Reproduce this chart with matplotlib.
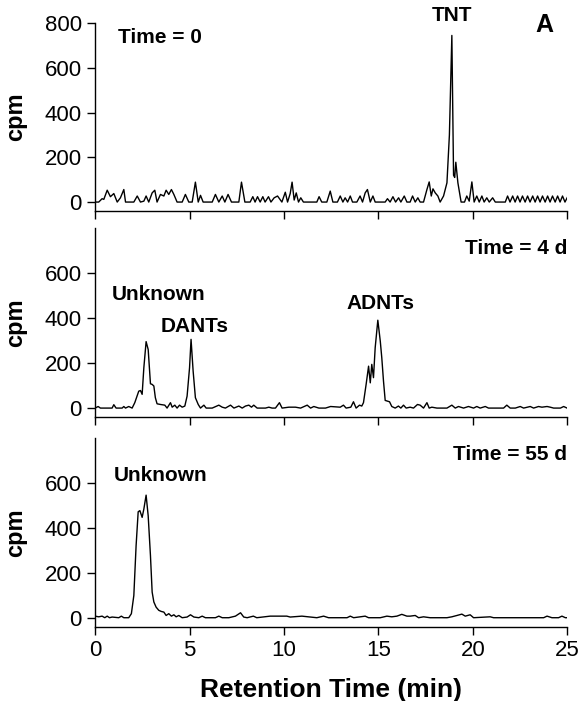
import matplotlib
matplotlib.use("Agg")
import matplotlib.pyplot as plt

plt.rcParams['font.family'] = ['Liberation Sans', 'DejaVu Sans']

# retention time (min) and counts (cpm)
t_day0 = [0.0, 0.19, 0.37, 0.46, 0.64, 0.81, 0.99, 1.17, 1.34, 1.52, 1.61, 2.05, 2.23, 2.40, 2.58, 2.70,
          2.84, 3.02, 3.16, 3.28, 3.46, 3.64, 3.76, 3.90, 4.04, 4.17, 4.34, 4.61, 4.78, 4.96, 5.14, 5.31,
          5.46, 5.58, 5.72, 6.20, 6.37, 6.55, 6.73, 6.87, 7.04, 7.22, 7.61, 7.75, 7.93,
          8.21, 8.35, 8.47, 8.60, 8.74, 8.88, 9.00, 9.18, 9.31, 9.48, 9.66, 9.89, 10.07, 10.19, 10.33,
          10.43, 10.54, 10.65, 10.77, 10.89, 11.03, 11.74, 11.86, 12.00, 12.27, 12.45, 12.59, 12.83,
          12.98, 13.12, 13.24, 13.37, 13.51, 13.63, 13.86, 14.03, 14.16, 14.30, 14.42, 14.57, 14.71,
          14.83, 15.36, 15.48, 15.62, 15.77, 15.91, 16.07, 16.19, 16.37, 16.51,
          16.68, 16.81, 16.95, 17.09, 17.21, 17.39, 17.57, 17.69, 17.80, 17.89, 18.01, 18.15, 18.27,
          18.45, 18.63, 18.76, 18.89, 18.98, 19.04, 19.10, 19.21, 19.38, 19.56, 19.68, 19.81, 19.95,
          20.07, 20.21, 20.34, 20.48, 20.60, 20.74, 20.87, 21.05, 21.19, 21.72,
          21.84, 21.97, 22.11, 22.24, 22.37, 22.50, 22.63, 22.77, 22.90, 23.03, 23.17, 23.30, 23.43,
          23.56, 23.69, 23.83, 23.96, 24.09, 24.22, 24.36, 24.49, 24.62, 24.75, 24.88, 25.0]
cpm_day0 = [0, 0, 15, 12, 53, 24, 38, 0, 19, 56, 0, 0, 27, 0, 4, 27,
            0, 41, 53, 0, 34, 27, 53, 34, 56, 34, 0, 0, 34, 0, 0, 89,
            0, 30, 0, 0, 34, 0, 27, 0, 34, 0, 0, 89, 0,
            0, 24, 0, 24, 0, 24, 0, 24, 0, 19, 27, 0, 44, 0, 38,
            89, 9, 41, 0, 19, 0, 0, 24, 0, 0, 49, 0, 0,
            27, 0, 19, 0, 27, 0, 0, 27, 0, 41, 56, 0, 27,
            0, 0, 15, 0, 24, 0, 19, 0, 27, 0,
            0, 27, 0, 19, 0, 0, 56, 90, 27, 59, 41, 27, 0,
            27, 86, 300, 745, 120, 110, 178, 86, 0, 0, 27, 4, 90,
            0, 27, 0, 27, 0, 19, 0, 19, 0, 0,
            27, 0, 27, 0, 27, 0, 27, 0, 27, 0, 27, 0, 27,
            0, 27, 0, 27, 0, 27, 0, 27, 0, 27, 0, 20]

t_day4 = [0.0, 0.16, 0.28, 0.90, 0.99, 1.11, 1.43, 1.52, 1.61, 1.78, 1.96, 2.10, 2.22, 2.31, 2.40, 2.49,
          2.58, 2.70, 2.81, 2.93, 3.02, 3.11, 3.19, 3.28, 3.46, 3.69, 3.81, 3.99, 4.08, 4.22, 4.34,
          4.47, 4.61, 4.75, 4.87, 5.00, 5.08, 5.19, 5.31, 5.46, 5.58, 5.76, 5.88, 6.20, 6.55, 6.73,
          6.90, 7.17, 7.35, 7.61, 7.79, 7.96, 8.14, 8.28, 8.40, 8.58, 9.02, 9.20, 9.37, 9.55, 9.76,
          9.90, 10.26, 10.61, 10.88, 11.23, 11.41, 11.58, 11.85, 12.20, 12.47,
          12.98, 13.15, 13.29, 13.54, 13.68, 13.82, 14.00, 14.12, 14.21, 14.35, 14.48, 14.57, 14.65,
          14.74, 14.83, 14.97, 15.10, 15.18, 15.27, 15.36, 15.48, 15.59, 15.71, 15.89, 16.06, 16.19,
          16.33, 16.47, 16.68, 16.86, 17.07, 17.21, 17.39, 17.57, 17.69, 17.83, 18.10, 18.63, 18.89,
          19.07, 19.24, 19.51, 19.77, 20.04, 20.21, 20.39, 20.66, 20.83, 21.63, 21.80, 21.98, 22.25,
          22.51, 22.69, 23.04, 23.22, 23.48, 23.66, 23.93, 24.10, 24.28, 24.64, 24.81, 24.99]
cpm_day4 = [0, 7, 0, 0, 15, 0, 0, 7, 0, 7, 0, 24, 53, 75, 78, 61,
            179, 295, 260, 108, 105, 98, 46, 19, 16, 13, 0, 24, 4, 13, 0,
            13, 4, 9, 53, 179, 305, 164, 46, 16, 0, 13, 0, 0, 13, 4,
            0, 13, 0, 9, 0, 9, 13, 4, 13, 0, 0, 4, 0, 0, 24,
            0, 4, 4, 0, 13, 0, 7, 0, 0, 7,
            4, 13, 0, 4, 28, 0, 13, 9, 24, 105, 186, 112, 194,
            135, 268, 390, 297, 223, 120, 34, 31, 28, 7, 0, 9, 0,
            13, 0, 4, 0, 16, 13, 0, 24, 0, 4, 0, 0, 13,
            0, 7, 0, 7, 0, 7, 0, 7, 0, 0, 13, 0, 0,
            7, 0, 7, 0, 7, 4, 7, 4, 0, 0, 7, 0]

t_day55 = [0.0, 0.19, 0.37, 0.51, 0.64, 0.76, 0.90, 1.25, 1.39, 1.52, 1.78, 1.92, 2.05, 2.17, 2.28, 2.37,
           2.49, 2.58, 2.70, 2.81, 2.93, 3.02, 3.11, 3.23, 3.37, 3.50, 3.64, 3.76, 3.90, 4.04, 4.17,
           4.29, 4.43, 4.61, 4.87, 5.05, 5.23, 5.49, 5.67, 5.84, 6.37, 6.55, 6.73, 7.08, 7.43, 7.70,
           7.87, 8.05, 8.38, 8.56, 9.27, 10.15, 10.33, 10.95, 11.74, 12.10, 12.36, 13.34, 13.51, 13.69,
           14.04, 14.30, 14.48, 15.10, 15.45, 15.71, 15.98, 16.24, 16.51, 16.68, 16.95, 17.13, 17.39,
           17.74, 18.63, 18.89, 19.16, 19.42, 19.60, 19.86, 20.04, 20.92, 21.10, 23.75, 23.93, 24.19,
           24.54, 24.72, 24.90, 25.0]
cpm_day55 = [7, 4, 7, 0, 7, 0, 3, 0, 7, 0, 0, 18, 99, 321, 472, 477,
             447, 484, 546, 454, 277, 114, 70, 47, 33, 28, 25, 10, 18, 7, 13,
             4, 10, 0, 3, 13, 3, 0, 7, 0, 0, 7, 0, 0, 7, 22,
             3, 0, 7, 0, 7, 7, 3, 7, 0, 7, 0, 0, 7, 0,
             4, 7, 0, 0, 7, 4, 7, 15, 7, 7, 10, 0, 4,
             0, 0, 4, 10, 16, 7, 13, 0, 4, 0, 0, 7, 0,
             0, 7, 0, 0]

x_ticks = [0, 5, 10, 15, 20, 25]
y_ticks_top = [0, 200, 400, 600, 800]
y_ticks = [0, 200, 400, 600]

fig = plt.figure(figsize=(5.8, 7.01), dpi=100)
left, width = 0.164, 0.814
ax1 = fig.add_axes([left, 0.699, width, 0.268])
ax2 = fig.add_axes([left, 0.405, width, 0.270])
ax3 = fig.add_axes([left, 0.106, width, 0.269])

panels = [(ax1, t_day0, cpm_day0, y_ticks_top),
          (ax2, t_day4, cpm_day4, y_ticks),
          (ax3, t_day55, cpm_day55, y_ticks)]

for ax, t, c, yt in panels:
    ax.plot(t, c, color='black', lw=1.0)
    ax.set_xlim(0, 25)
    ax.set_ylim(-40, 800)
    ax.set_xticks(x_ticks)
    ax.set_yticks(yt)
    ax.spines['top'].set_visible(False)
    ax.spines['right'].set_visible(False)
    ax.spines['left'].set_linewidth(1.0)
    ax.spines['bottom'].set_linewidth(1.0)
    ax.tick_params(direction='out', length=6, width=1.0, labelsize=16)
    ax.set_ylabel('cpm', fontsize=17, fontweight='bold')
    ax.yaxis.set_label_coords(-0.145, 0.5)

ax1.tick_params(labelbottom=False)
ax2.tick_params(labelbottom=False)
ax3.set_xlabel('Retention Time (min)', fontsize=19, fontweight='bold', labelpad=12)

bold = dict(fontweight='bold', fontsize=15)
ax1.text(1.2, 737, 'Time = 0', ha='left', va='center', **bold)
ax1.text(18.9, 835, 'TNT', ha='center', va='center', clip_on=False, **bold)
ax1.text(23.8, 790, 'A', ha='center', va='center', fontsize=18, fontweight='bold', clip_on=False)

ax2.text(25, 710, 'Time = 4 d', ha='right', va='center', **bold)
ax2.text(0.9, 506, 'Unknown', ha='left', va='center', **bold)
ax2.text(3.45, 364, 'DANTs', ha='left', va='center', **bold)
ax2.text(15.1, 462, 'ADNTs', ha='center', va='center', **bold)

ax3.text(25, 728, 'Time = 55 d', ha='right', va='center', **bold)
ax3.text(1.0, 635, 'Unknown', ha='left', va='center', **bold)

fig.savefig('out.png', dpi=100)
